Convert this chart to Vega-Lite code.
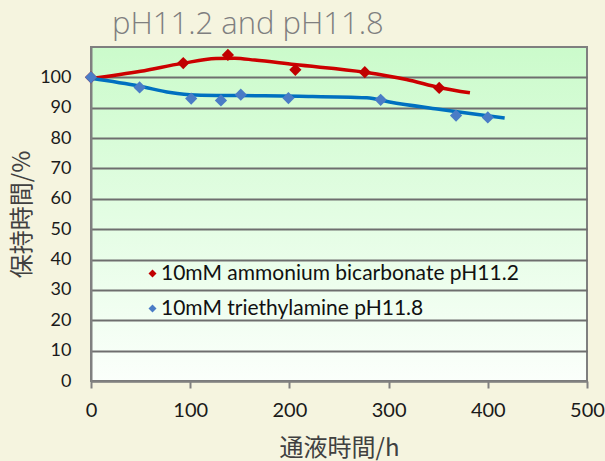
{
  "$schema": "https://vega.github.io/schema/vega-lite/v6.json",
  "autosize": "none",
  "width": 496,
  "height": 334,
  "padding": {"left": 91, "top": 47, "right": 18, "bottom": 80},
  "background": "#f5f4df",
  "title": {
    "text": "pH11.2 and pH11.8",
    "anchor": "start",
    "frame": "group",
    "dx": 21,
    "offset": 6,
    "font": "Open Sans",
    "fontSize": 31,
    "fontWeight": 300,
    "color": "#7f7f7f"
  },
  "config": {
    "view": {
      "fill": {
        "gradient": "linear",
        "x1": 0, "y1": 0, "x2": 0, "y2": 1,
        "stops": [
          {"offset": 0, "color": "#cbfbcb"},
          {"offset": 1, "color": "#fbfffb"}
        ]
      },
      "stroke": "#7f7f7f",
      "strokeWidth": 2
    },
    "axis": {
      "labelFont": "Lato",
      "labelColor": "#1a1a1a",
      "titleFont": "Noto Sans CJK JP",
      "titleFontSize": 24,
      "titleFontWeight": 400,
      "titleColor": "#404040",
      "domainColor": "#808080",
      "domainWidth": 2,
      "tickColor": "#808080",
      "tickWidth": 2
    }
  },
  "datasets": {
    "measured": [
      {"series": "10mM ammonium bicarbonate pH11.2", "hours": 0, "retention": 100},
      {"series": "10mM ammonium bicarbonate pH11.2", "hours": 93, "retention": 104.7},
      {"series": "10mM ammonium bicarbonate pH11.2", "hours": 138, "retention": 107.4},
      {"series": "10mM ammonium bicarbonate pH11.2", "hours": 206, "retention": 102.5},
      {"series": "10mM ammonium bicarbonate pH11.2", "hours": 276, "retention": 101.7},
      {"series": "10mM ammonium bicarbonate pH11.2", "hours": 351, "retention": 96.5},
      {"series": "10mM triethylamine pH11.8", "hours": 0, "retention": 100},
      {"series": "10mM triethylamine pH11.8", "hours": 49, "retention": 96.7},
      {"series": "10mM triethylamine pH11.8", "hours": 101, "retention": 93.0},
      {"series": "10mM triethylamine pH11.8", "hours": 131, "retention": 92.4},
      {"series": "10mM triethylamine pH11.8", "hours": 151, "retention": 94.3},
      {"series": "10mM triethylamine pH11.8", "hours": 199, "retention": 93.2},
      {"series": "10mM triethylamine pH11.8", "hours": 292, "retention": 92.6},
      {"series": "10mM triethylamine pH11.8", "hours": 368, "retention": 87.4},
      {"series": "10mM triethylamine pH11.8", "hours": 400, "retention": 86.8}
    ],
    "trend": [
      {"series": "10mM ammonium bicarbonate pH11.2", "hours": 0, "retention": 99.6},
      {"series": "10mM ammonium bicarbonate pH11.2", "hours": 50, "retention": 102.0},
      {"series": "10mM ammonium bicarbonate pH11.2", "hours": 92, "retention": 104.6},
      {"series": "10mM ammonium bicarbonate pH11.2", "hours": 126, "retention": 106.2},
      {"series": "10mM ammonium bicarbonate pH11.2", "hours": 145, "retention": 106.3},
      {"series": "10mM ammonium bicarbonate pH11.2", "hours": 165, "retention": 105.7},
      {"series": "10mM ammonium bicarbonate pH11.2", "hours": 205, "retention": 104.2},
      {"series": "10mM ammonium bicarbonate pH11.2", "hours": 276, "retention": 101.7},
      {"series": "10mM ammonium bicarbonate pH11.2", "hours": 318, "retention": 99.3},
      {"series": "10mM ammonium bicarbonate pH11.2", "hours": 352, "retention": 96.6},
      {"series": "10mM ammonium bicarbonate pH11.2", "hours": 382, "retention": 94.9},
      {"series": "10mM triethylamine pH11.8", "hours": 0, "retention": 99.7},
      {"series": "10mM triethylamine pH11.8", "hours": 49, "retention": 97.1},
      {"series": "10mM triethylamine pH11.8", "hours": 80, "retention": 95.0},
      {"series": "10mM triethylamine pH11.8", "hours": 105, "retention": 94.2},
      {"series": "10mM triethylamine pH11.8", "hours": 150, "retention": 94.0},
      {"series": "10mM triethylamine pH11.8", "hours": 210, "retention": 93.8},
      {"series": "10mM triethylamine pH11.8", "hours": 278, "retention": 93.3},
      {"series": "10mM triethylamine pH11.8", "hours": 301, "retention": 91.9},
      {"series": "10mM triethylamine pH11.8", "hours": 349, "retention": 89.6},
      {"series": "10mM triethylamine pH11.8", "hours": 369, "retention": 88.7},
      {"series": "10mM triethylamine pH11.8", "hours": 417, "retention": 86.6}
    ]
  },
  "encoding": {
    "x": {
      "field": "hours",
      "type": "quantitative",
      "scale": {"domain": [0, 500], "nice": false},
      "axis": {
        "title": "通液時間/h",
        "values": [0, 100, 200, 300, 400, 500],
        "grid": false,
        "tickSize": 7,
        "labelFontSize": 20,
        "labelFlush": false,
        "labelOverlap": false,
        "labelPadding": 12,
        "titlePadding": 16
      }
    },
    "y": {
      "field": "retention",
      "type": "quantitative",
      "scale": {"domain": [0, 110], "nice": false},
      "axis": {
        "title": "保持時間/%",
        "values": [0, 10, 20, 30, 40, 50, 60, 70, 80, 90, 100],
        "ticks": false,
        "labelFontSize": 18,
        "labelPadding": 20,
        "titlePadding": 5,
        "grid": true,
        "gridColor": "#6e6e6e",
        "gridWidth": 2,
        "gridOpacity": 1
      }
    }
  },
  "layer": [
    {
      "data": {"name": "trend"},
      "mark": {"type": "line", "strokeWidth": 3.5, "interpolate": "monotone"},
      "encoding": {
        "color": {
          "field": "series",
          "type": "nominal",
          "scale": {
            "domain": ["10mM ammonium bicarbonate pH11.2", "10mM triethylamine pH11.8"],
            "range": ["#cc0000", "#0070c0"]
          },
          "legend": null
        }
      }
    },
    {
      "data": {"name": "measured"},
      "mark": {"type": "point", "shape": "diamond", "filled": true, "size": 150, "opacity": 1},
      "encoding": {
        "color": {
          "field": "series",
          "type": "nominal",
          "scale": {
            "domain": ["10mM ammonium bicarbonate pH11.2", "10mM triethylamine pH11.8"],
            "range": ["#c00000", "#4a7cc6"]
          },
          "legend": {
            "title": null,
            "orient": "none",
            "legendX": 51,
            "legendY": 216,
            "symbolType": "diamond",
            "symbolSize": 64,
            "symbolOpacity": 1,
            "labelFont": "Lato",
            "labelFontSize": 21,
            "labelColor": "#111111",
            "labelLimit": 500,
            "labelOffset": -2,
            "rowPadding": 13
          }
        }
      }
    }
  ],
  "resolve": {"scale": {"color": "independent"}}
}
